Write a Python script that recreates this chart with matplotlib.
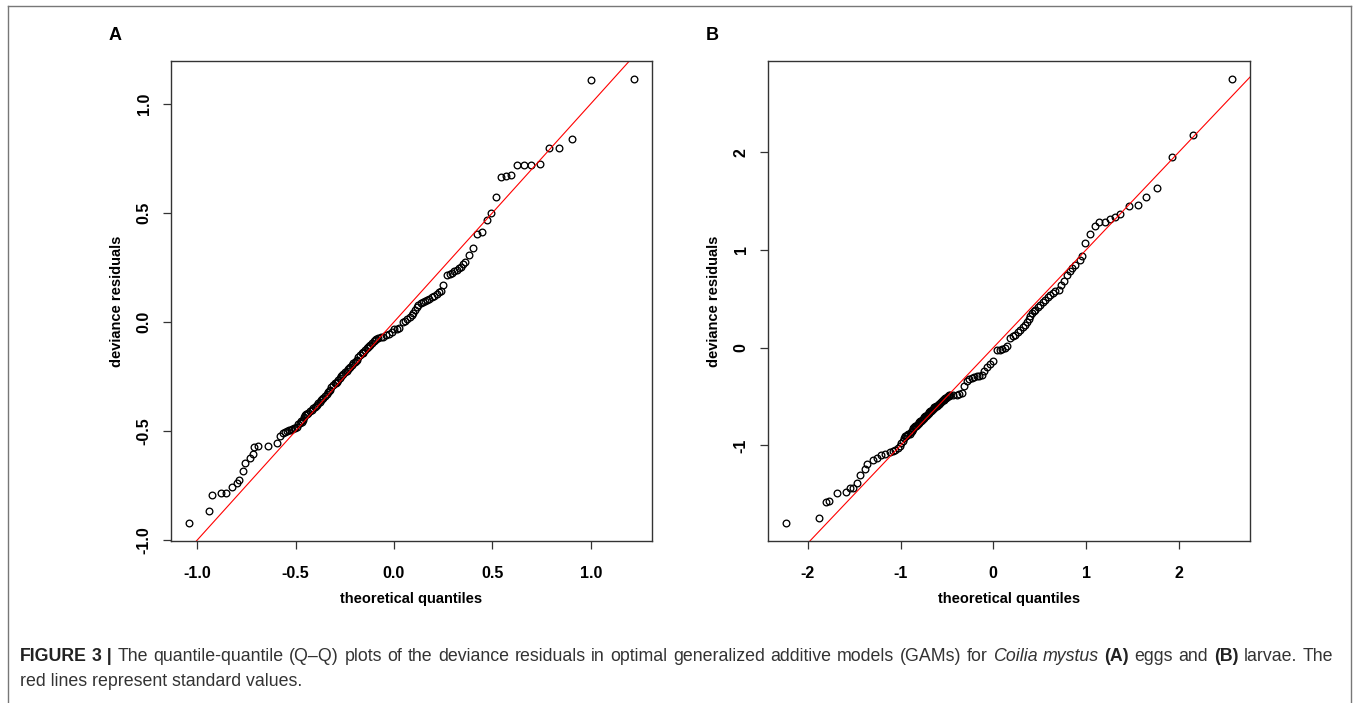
import matplotlib
matplotlib.use("Agg")
import matplotlib.pyplot as plt
from matplotlib.lines import Line2D

plt.rcParams['font.family'] = ['Liberation Sans', 'DejaVu Sans']

# panel A: eggs (theoretical quantiles, deviance residuals)
eggs_x = [-1.043, -0.941, -0.923, -0.877, -0.852, -0.823, -0.800, -0.787, -0.768, -0.755,
          -0.733, -0.719, -0.712, -0.692, -0.643, -0.597, -0.580, -0.563, -0.552, -0.543,
          -0.534, -0.526, -0.517, -0.509, -0.502, -0.495, -0.487, -0.480, -0.472, -0.465,
          -0.458, -0.453, -0.446, -0.436, -0.428, -0.419, -0.411, -0.403, -0.393, -0.385,
          -0.377, -0.369, -0.360, -0.352, -0.343, -0.335, -0.326, -0.318, -0.309, -0.301,
          -0.292, -0.284, -0.275, -0.267, -0.258, -0.250, -0.241, -0.233, -0.224, -0.216,
          -0.207, -0.199, -0.190, -0.182, -0.173, -0.165, -0.156, -0.148, -0.139, -0.131,
          -0.122, -0.112, -0.102, -0.091, -0.080, -0.067, -0.054, -0.039, -0.024, -0.012,
          0.000, 0.014, 0.027, 0.047, 0.058, 0.068, 0.079, 0.090, 0.099, 0.107,
          0.116, 0.124, 0.135, 0.146, 0.156, 0.166, 0.179, 0.192, 0.205, 0.217,
          0.228, 0.238, 0.251, 0.272, 0.283, 0.294, 0.307, 0.319, 0.330, 0.340,
          0.351, 0.361, 0.383, 0.404, 0.421, 0.446, 0.473, 0.494, 0.519, 0.545,
          0.570, 0.595, 0.626, 0.660, 0.697, 0.743, 0.789, 0.840, 0.906, 1.003,
          1.221,
          # extra points in the dense middle band
          -0.470, -0.440, -0.398, -0.365, -0.330, -0.296, -0.262, -0.228, -0.195, -0.160,
          -0.126, -0.096]
eggs_y = [-0.923, -0.865, -0.795, -0.783, -0.783, -0.758, -0.737, -0.725, -0.685, -0.645,
          -0.624, -0.606, -0.572, -0.567, -0.567, -0.553, -0.523, -0.511, -0.505, -0.499,
          -0.497, -0.495, -0.491, -0.488, -0.485, -0.480, -0.470, -0.462, -0.456, -0.450,
          -0.436, -0.427, -0.422, -0.416, -0.410, -0.404, -0.395, -0.388, -0.381, -0.374,
          -0.366, -0.358, -0.350, -0.340, -0.330, -0.321, -0.312, -0.300, -0.289, -0.282,
          -0.274, -0.266, -0.258, -0.249, -0.239, -0.231, -0.223, -0.214, -0.205, -0.198,
          -0.190, -0.182, -0.174, -0.163, -0.151, -0.144, -0.136, -0.128, -0.121, -0.113,
          -0.106, -0.096, -0.086, -0.080, -0.075, -0.071, -0.067, -0.061, -0.055, -0.046,
          -0.034, -0.031, -0.029, 0.001, 0.006, 0.012, 0.022, 0.032, 0.043, 0.055,
          0.067, 0.078, 0.086, 0.093, 0.097, 0.101, 0.107, 0.113, 0.121, 0.128,
          0.136, 0.144, 0.170, 0.216, 0.221, 0.226, 0.232, 0.239, 0.247, 0.254,
          0.266, 0.277, 0.307, 0.338, 0.404, 0.414, 0.468, 0.500, 0.573, 0.665,
          0.670, 0.674, 0.720, 0.720, 0.720, 0.725, 0.798, 0.798, 0.839, 1.110,
          1.115,
          -0.458, -0.424, -0.384, -0.354, -0.318, -0.280, -0.245, -0.211, -0.178, -0.141,
          -0.109, -0.082]

# panel B: larvae
larvae_x = [-2.236, -1.884, -1.800, -1.766, -1.680, -1.586, -1.543, -1.507, -1.464, -1.442,
            -1.381, -1.356, -1.298, -1.255, -1.211, -1.165, -1.111, -1.080, -1.057, -1.030,
            -1.003, -0.975, -0.949, -0.925, -0.903, -0.880, -0.860, -0.842, -0.823, -0.805,
            -0.787, -0.770, -0.752, -0.733, -0.715, -0.698, -0.680, -0.662, -0.644, -0.625,
            -0.607, -0.590, -0.572, -0.554, -0.536, -0.518, -0.499, -0.482, -0.464, -0.430,
            -0.392, -0.365, -0.338, -0.313, -0.284, -0.257, -0.230, -0.203, -0.176, -0.149,
            -0.122, -0.095, -0.068, -0.035, -0.003, 0.040, 0.068, 0.094, 0.121, 0.148,
            0.183, 0.210, 0.237, 0.264, 0.291, 0.318, 0.345, 0.363, 0.381, 0.399,
            0.417, 0.435, 0.453, 0.480, 0.507, 0.534, 0.561, 0.588, 0.615, 0.642,
            0.669, 0.705, 0.731, 0.758, 0.795, 0.822, 0.849, 0.885, 0.931, 0.957,
            0.992, 1.046, 1.093, 1.136, 1.200, 1.255, 1.309, 1.370, 1.460, 1.557,
            1.643, 1.769, 1.931, 2.154, 2.575,
            # extra points in the dense lower-middle band
            -0.990, -0.962, -0.937, -0.914, -0.892, -0.870, -0.851, -0.832, -0.814, -0.796,
            -0.778, -0.761, -0.742, -0.724, -0.706, -0.689, -0.671, -0.653, -0.634, -0.616,
            -0.598, -0.581, -0.563, -0.545, -0.527, -0.508, -0.490, -0.473]
larvae_y = [-1.795, -1.743, -1.580, -1.570, -1.490, -1.479, -1.430, -1.430, -1.386, -1.300,
            -1.242, -1.188, -1.147, -1.123, -1.096, -1.085, -1.068, -1.055, -1.044, -1.025,
            -1.003, -0.950, -0.908, -0.893, -0.880, -0.850, -0.822, -0.805, -0.788, -0.771,
            -0.754, -0.737, -0.720, -0.703, -0.686, -0.669, -0.652, -0.635, -0.617, -0.606,
            -0.594, -0.580, -0.566, -0.549, -0.532, -0.519, -0.505, -0.493, -0.481, -0.481,
            -0.481, -0.472, -0.464, -0.396, -0.345, -0.325, -0.310, -0.302, -0.294, -0.285,
            -0.277, -0.238, -0.198, -0.170, -0.140, -0.028, -0.020, -0.013, 0.000, 0.013,
            0.099, 0.116, 0.133, 0.158, 0.184, 0.210, 0.235, 0.265, 0.294, 0.325,
            0.355, 0.372, 0.389, 0.414, 0.440, 0.466, 0.491, 0.517, 0.542, 0.559,
            0.576, 0.594, 0.637, 0.679, 0.747, 0.781, 0.815, 0.849, 0.900, 0.934,
            1.071, 1.166, 1.248, 1.290, 1.286, 1.317, 1.334, 1.368, 1.446, 1.456,
            1.538, 1.630, 1.954, 2.176, 2.750,
            -0.975, -0.925, -0.900, -0.886, -0.862, -0.836, -0.814, -0.797, -0.780, -0.762,
            -0.745, -0.728, -0.711, -0.694, -0.677, -0.660, -0.643, -0.626, -0.611, -0.600,
            -0.587, -0.573, -0.558, -0.540, -0.525, -0.512, -0.499, -0.487]

eggs_ticks_x = [-1.0, -0.5, 0.0, 0.5, 1.0]
eggs_ticks_y = [-1.0, -0.5, 0.0, 0.5, 1.0]
larvae_ticks_x = [-2, -1, 0, 1, 2]
larvae_ticks_y = [-1, 0, 1, 2]

W, H = 1357, 703
fig = plt.figure(figsize=(W / 100, H / 100), dpi=100)


def qq_panel(rect, x, y, xt, yt, fmt, letter, letter_x):
    ax = fig.add_axes(rect)
    ax.plot(x, y, 'o', mfc='none', mec='black', ms=4.8, mew=0.95)
    ax.margins(0.04)
    ax.axline((0, 0), slope=1, color='red', lw=0.8)
    ax.set_xticks(xt)
    ax.set_yticks(yt)
    ax.set_xticklabels([fmt.format(v) for v in xt], fontweight='bold', fontsize=11.5)
    ax.set_yticklabels([fmt.format(v) for v in yt], fontweight='bold', fontsize=11.5,
                       rotation=90, va='center')
    ax.tick_params(axis='x', length=6, width=0.9, pad=12, color='#333333')
    ax.tick_params(axis='y', length=6, width=0.9, pad=8, color='#333333')
    for s in ax.spines.values():
        s.set_linewidth(1.0)
        s.set_color('#333333')
    ax.set_xlabel('theoretical quantiles', fontweight='bold', fontsize=10.5, labelpad=8)
    ax.set_ylabel('deviance residuals', fontweight='bold', fontsize=10.5, labelpad=9)
    fig.text(letter_x / W, 1 - 35 / H, letter, fontweight='bold', fontsize=13,
             ha='center', va='center')
    return ax


qq_panel([171 / W, 1 - 541 / H, 481 / W, 480 / H], eggs_x, eggs_y,
         eggs_ticks_x, eggs_ticks_y, '{:.1f}', 'A', 115)
qq_panel([768 / W, 1 - 541 / H, 482 / W, 480 / H], larvae_x, larvae_y,
         larvae_ticks_x, larvae_ticks_y, '{:g}', 'B', 712)

# outer frame (no bottom edge)
frame_c = '#777777'
fig.add_artist(Line2D([8 / W, 8 / W], [0, 1 - 6 / H], color=frame_c, lw=1.0))
fig.add_artist(Line2D([8 / W, 1351 / W], [1 - 6 / H, 1 - 6 / H], color=frame_c, lw=1.0))
fig.add_artist(Line2D([1351 / W, 1351 / W], [1 - 6 / H, 0], color=frame_c, lw=1.0))

# caption: first line justified to the full width, second line left aligned
cap_size = 12.8
cap_col = '#333333'
dark = '#222222'
line1 = [("FIGURE", 'bold', 'normal', dark), ("3 |", 'bold', 'normal', dark)]
for wd in ("The quantile-quantile (Q\u2013Q) plots of the deviance residuals in optimal "
           "generalized additive models (GAMs) for").split():
    line1.append((wd, 'normal', 'normal', cap_col))
line1 += [("Coilia", 'normal', 'italic', cap_col), ("mystus", 'normal', 'italic', cap_col),
          ("(A)", 'bold', 'normal', dark), ("eggs", 'normal', 'normal', cap_col),
          ("and", 'normal', 'normal', cap_col), ("(B)", 'bold', 'normal', dark),
          ("larvae.", 'normal', 'normal', cap_col), ("The", 'normal', 'normal', cap_col)]

renderer = fig.canvas.get_renderer()
left, right = 20, 1333
arts = []
total = 0
for txt, wt, st, col in line1:
    t = fig.text(0, 1 - 661 / H, txt, fontsize=cap_size, fontweight=wt,
                 fontstyle=st, color=col, ha='left', va='baseline')
    w = t.get_window_extent(renderer).width
    arts.append((t, w))
    total += w
gap = max((right - left - total) / (len(arts) - 1), 2.5)
xpos = left
for t, w in arts:
    t.set_x(xpos / W)
    xpos += w + gap

fig.text(left / W, 1 - 686 / H, "red lines represent standard values.", fontsize=cap_size,
         color=cap_col, ha='left', va='baseline')

fig.savefig('out.png', dpi=100)
